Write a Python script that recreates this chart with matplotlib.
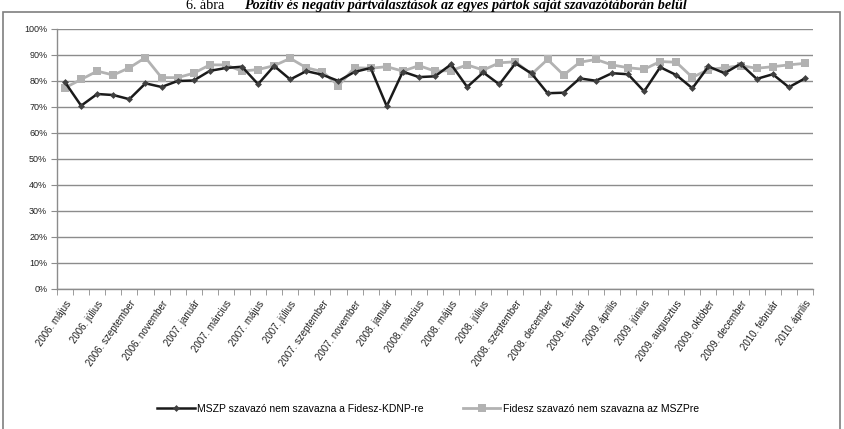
import matplotlib.pyplot as plt
import matplotlib.patches as patches
import numpy as np

honapok = ['május', 'június', 'július', 'augusztus', 'szeptember', 'október', 'november', 'december']
ev_honapok = ['január', 'február', 'március', 'április', 'május', 'június', 'július',
              'augusztus', 'szeptember', 'október', 'november', 'december']

categories = (['2006. ' + m for m in honapok]
              + ['2007. ' + m for m in ev_honapok]
              + ['2008. ' + m for m in ev_honapok[:10]] + ['2008. december']
              + ['2009. ' + m for m in ev_honapok]
              + ['2010. ' + m for m in ev_honapok[:4]])

mszp = [79.5, 70.5, 75.0, 74.6, 73.0, 79.1, 77.7, 80.0, 80.2, 83.9, 85.0, 85.5,
        78.8, 85.8, 80.6, 83.8, 82.4, 80.0, 83.5, 85.0, 70.3, 83.6, 81.5, 81.8,
        86.4, 77.7, 83.3, 78.7, 86.8, 82.9, 75.3, 75.5, 81.0, 80.1, 83.0, 82.6,
        76.0, 85.3, 82.3, 77.2, 85.6, 83.0, 86.6, 80.8, 82.6, 77.6, 81.0]
fidesz = [77.4, 80.6, 83.8, 82.3, 85.1, 89.0, 81.3, 81.3, 83.0, 86.2, 86.2, 83.8,
          84.4, 85.9, 88.7, 85.1, 83.6, 78.2, 85.1, 84.9, 85.5, 83.8, 85.9, 83.8,
          84.0, 86.2, 84.2, 87.0, 87.4, 82.6, 88.3, 82.3, 87.2, 88.3, 86.2, 85.1,
          84.5, 87.5, 87.2, 81.4, 84.4, 85.1, 85.9, 84.9, 85.5, 86.2, 86.8]

mszp_label = 'MSZP szavazó nem szavazna a Fidesz-KDNP-re'
fidesz_label = 'Fidesz szavazó nem szavazna az MSZPre'

plt.rcParams['font.family'] = ['Liberation Sans', 'DejaVu Sans']

fig = plt.figure(figsize=(8.44, 4.29), dpi=100)
ax = fig.add_axes([57 / 844, 1 - 289 / 429, 756 / 844, 260 / 429])

x = np.arange(len(categories))
ax.plot(x, np.array(fidesz) / 100, color='#b2b2b2', lw=2, marker='s', ms=5.5,
        markeredgewidth=0, label=fidesz_label, zorder=3)
ax.plot(x, np.array(mszp) / 100, color='#1a1a1a', lw=1.8, marker='D', ms=3.5,
        markerfacecolor='#404040', markeredgewidth=0, label=mszp_label, zorder=4)

ax.set_xlim(-0.5, len(categories) - 0.5)
ax.set_ylim(0, 1)
ax.set_yticks(np.arange(0, 1.01, 0.1))
ax.set_yticklabels(['{}%'.format(int(round(v * 100))) for v in np.arange(0, 1.01, 0.1)])
ax.yaxis.grid(True, color='#8c8c8c', lw=1)
ax.set_axisbelow(True)

ax.set_xticks(x[::2])
ax.set_xticklabels(categories[::2], rotation=55, ha='right', rotation_mode='anchor')
ax.set_xticks(np.arange(-0.5, len(categories), 1), minor=True)
ax.tick_params(axis='x', which='major', length=0, pad=7, labelsize=7, colors='#222222')
ax.tick_params(axis='x', which='minor', length=4, color='#8c8c8c', direction='out')
ax.tick_params(axis='y', length=4, color='#8c8c8c', labelsize=6.5, pad=3,
               labelcolor='#222222')

for side in ['top', 'right']:
    ax.spines[side].set_visible(False)
for side in ['left', 'bottom']:
    ax.spines[side].set_color('#8c8c8c')
    ax.spines[side].set_linewidth(1)

handles, labels = ax.get_legend_handles_labels()
fig.legend(handles[::-1], labels[::-1], loc='center', bbox_to_anchor=(0.507, 1 - 409 / 429),
           ncol=2, frameon=False, fontsize=7.5, handlelength=3.6, columnspacing=3.8,
           handletextpad=0.2)

frame = patches.Rectangle((3 / 844, -0.02), 837 / 844, 1 - 12 / 429 + 0.02,
                          transform=fig.transFigure, fill=False, edgecolor='#7f7f7f', lw=1.2)
fig.patches.append(frame)

# title: plain number + bold italic caption
fig.text(186 / 844, 1 - 9 / 429, '6. ábra', fontsize=10.2, family='Liberation Serif',
         va='baseline', ha='left')
fig.text(244 / 844, 1 - 9 / 429,
         'Pozitív és negatív pártválasztások az egyes pártok saját szavazótáborán belül',
         fontsize=10.2, family='Liberation Serif', style='italic', weight='bold',
         va='baseline', ha='left')

plt.savefig('out.png', dpi=100)
